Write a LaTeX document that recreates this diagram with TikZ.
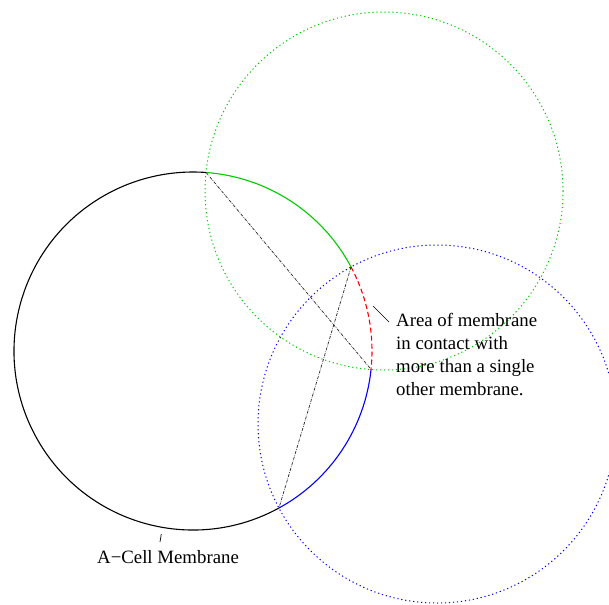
\documentclass[tikz,border=0pt]{standalone}
\usepackage{fontspec}
\setmainfont{Liberation Serif}
\begin{document}
\begin{tikzpicture}[x=1pt,y=-1pt,
  membrane/.style={line width=1.1pt},
  dotcircle/.style={line width=1pt, dash pattern=on 1.2pt off 2.8pt},
  chord/.style={line width=0.7pt, black!85, dash pattern=on 3pt off 1.2pt on 0.6pt off 1.2pt},
  lbl/.style={font=\fontsize{18.8}{23}\selectfont, inner sep=0pt, align=left},
  leader/.style={line width=0.7pt}]
\useasboundingbox (0,0) rectangle (609,604);
\clip (0,0) rectangle (609,604);
\definecolor{gcol}{rgb}{0,0.8,0}
\definecolor{bcol}{rgb}{0,0,1}
% centres
\coordinate (A) at (193,351);
\coordinate (G) at (384,191);
\coordinate (B) at (437,424);
% other cell membranes (dotted)
\draw[dotcircle, gcol] (G) circle[radius=179];
\draw[dotcircle, bcol] (B) circle[radius=179];
% intersection points on A
\path (A) ++(-85.8:179) coordinate (P1);
\path (A) ++(-28.0:179) coordinate (P2);
\path (A) ++(5.9:179) coordinate (P3);
\path (A) ++(61.3:179) coordinate (P4);
% A membrane arcs
\draw[membrane, black] (P4) arc[start angle=61.3, end angle=274.2, radius=179];
\draw[membrane, gcol] (P1) arc[start angle=-85.8, end angle=-28.0, radius=179];
\draw[membrane, red, dash pattern=on 5pt off 3pt] (P2) arc[start angle=-28.0, end angle=5.9, radius=179];
\draw[membrane, bcol] (P3) arc[start angle=5.9, end angle=61.3, radius=179];
% chords
\draw[chord] (P1) -- (P3);
\draw[chord] (P2) -- (P4);
% labels
\node[lbl, anchor=base west] (area) at (396,395) {Area of membrane\\in contact with\\more than a single\\other membrane.};
\coordinate (areaTip) at (373,306);
\coordinate (areaEnd) at (389,322);
\draw[leader] (areaTip) -- (areaEnd);
\node[lbl, anchor=base west] (cell) at (97,563) {A\textminus Cell Membrane};
\coordinate (cellTip) at (161.3,534);
\coordinate (cellEnd) at (160,542);
\draw[leader] (cellTip) -- (cellEnd);
\end{tikzpicture}
\end{document}
